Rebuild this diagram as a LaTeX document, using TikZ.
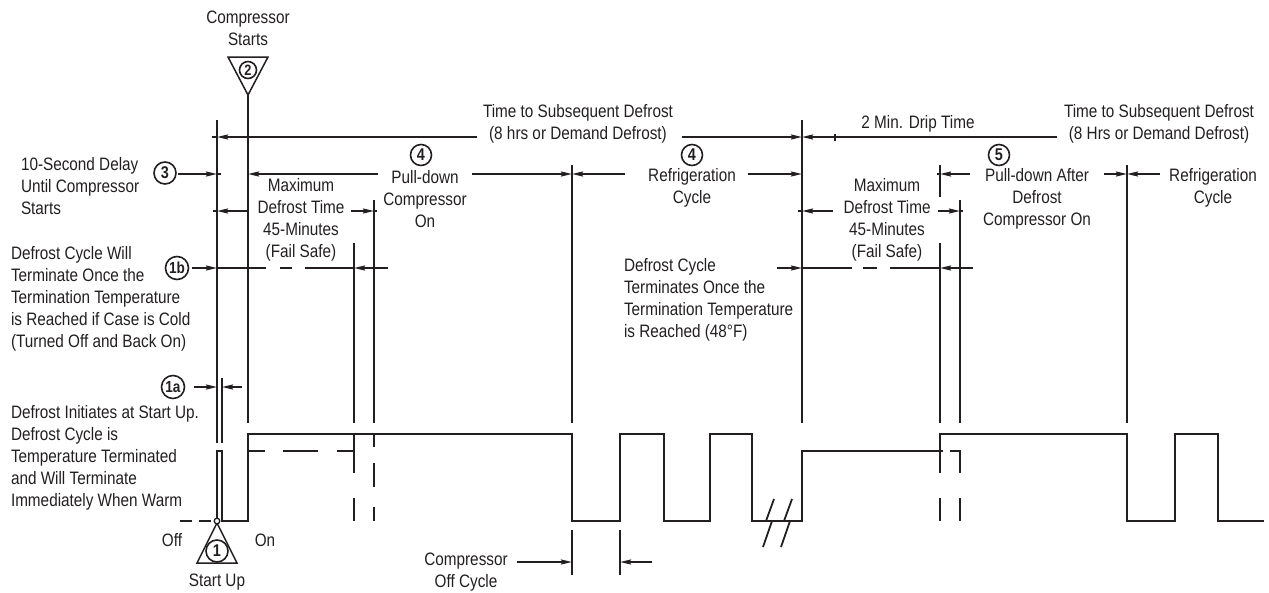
\documentclass[tikz,border=0pt]{standalone}
\usepackage{fontspec}
\setmainfont[FakeStretch=0.85]{Liberation Sans}
\usetikzlibrary{arrows.meta}
\definecolor{ink}{HTML}{231F20}
\begin{document}
\begin{tikzpicture}[x=1pt,y=-1pt, line width=1.8pt, draw=ink,
  every node/.style={inner sep=0pt, outer sep=0pt, text=ink, font=\fontsize{18}{22}\selectfont},
  dim/.style={-{Stealth[length=11pt,width=5pt,inset=1.5pt]}},
  lbl/.style={align=center},
  lbll/.style={align=left, anchor=west},
  num/.style={circle, draw=ink, minimum size=21pt, line width=1.6pt, font=\fontsize{17}{17}\selectfont\bfseries},
  tri/.style={line width=1.5pt, line join=miter},
]
\useasboundingbox (0,0) rectangle (1269,592);

% ---------- texts ----------
\node[lbl] (cs) at (248,28) {Compressor\\Starts};
\node[lbll] (delay) at (21,186) {10-Second Delay\\Until Compressor\\Starts};
\node[lbll] (dcw) at (11,299) {Defrost Cycle Will\\Terminate Once the\\Termination Temperature\\is Reached if Case is Cold\\(Turned Off and Back On)};
\node[lbll] (dis) at (11,458) {Defrost Initiates at Start Up.\\Defrost Cycle is\\Temperature Terminated\\and Will Terminate\\Immediately When Warm};
\node[lbl] (mdt1) at (301,220) {Maximum\\Defrost Time\\45-Minutes\\(Fail Safe)};
\node[lbl] (mdt2) at (887,220) {Maximum\\Defrost Time\\45-Minutes\\(Fail Safe)};
\node[lbl] (pd) at (425,199) {Pull-down\\Compressor\\On};
\node[lbl] (rc1) at (692,188) {Refrigeration\\Cycle};
\node[lbl] (ts1) at (578,124) {Time to Subsequent Defrost\\(8 hrs or Demand Defrost)};
\node[lbl] (ts2) at (1159,124) {Time to Subsequent Defrost\\(8 Hrs or Demand Defrost)};
\node (drip) at (918,124) {2 Min. Drip Time};
\node[lbll] (dct) at (624,300) {Defrost Cycle\\Terminates Once the\\Termination Temperature\\is Reached (48°F)};
\node[lbl] (pda) at (1037,199) {Pull-down After\\Defrost\\Compressor On};
\node[lbl] (rc2) at (1213,188) {Refrigeration\\Cycle};
\node[lbl] (coc) at (466,572) {Compressor\\Off Cycle};
\node (off) at (172,540) {Off};
\node (on) at (265,540) {On};
\node (su) at (217,582) {Start Up};

% ---------- start-up and compressor-start markers ----------
\draw[tri] (228,57) -- (268,57) -- (248,95) -- cycle;
\node[num, minimum size=17pt, font=\fontsize{15}{15}\selectfont\bfseries] (n2) at (248,70) {2};
\draw[tri] (217,523) -- (237,563) -- (197,563) -- cycle;
\node[num, minimum size=22pt, fill=white] (n1) at (217,551) {1};
\draw[line width=1.3pt, fill=white] (217,521) circle[radius=2.8pt];

% ---------- circled numbers ----------
\node[num, minimum size=22pt] (n3) at (165,173) {3};
\node[num, minimum size=23pt, font=\fontsize{16}{16}\selectfont\bfseries] (n1b) at (177,268) {1b};
\node[num, minimum size=23pt, font=\fontsize{16}{16}\selectfont\bfseries] (n1a) at (173,387) {1a};
\node[num] (n4a) at (421,155) {4};
\node[num] (n4b) at (692,155) {4};
\node[num] (n5) at (999,155) {5};

% ---------- vertical reference lines ----------
\draw (217,120) -- (217,443);
\draw (222,378) -- (222,443);
\draw (248,95) -- (248,423);
\draw (374,200) -- (374,423);
\draw (354,243) -- (354,423);
\draw (572,165) -- (572,423);
\draw (802,120) -- (802,423);
\draw (940,165) -- (940,197);
\draw (940,243) -- (940,423);
\draw (960,200) -- (960,423);
\draw (1127,165) -- (1127,423);
\draw (572,530) -- (572,575);
\draw (620,530) -- (620,575);

% ---------- dimension arrows ----------
% row 137
\draw[dim] (477,137) -- (217,137);
\draw (217,137) -- (212,137);
\draw[dim] (682,137) -- (802,137);
\draw[dim] (1057,137) -- (802,137);
\draw (835,134) -- (835,141);
% row 174
\draw[dim] (178,174) -- (217,174);
\draw (217,174) -- (221,174);
\draw[dim] (378,174) -- (248,174);
\draw[dim] (472,174) -- (572,174);
\draw[dim] (625,174) -- (572,174);
\draw[dim] (748,174) -- (802,174);
\draw[dim] (970,174) -- (940,174);
\draw (940,174) -- (937,174);
\draw[dim] (1104,174) -- (1127,174);
\draw[dim] (1160,174) -- (1127,174);
% row 211
\draw[dim] (248,211) -- (217,211);
\draw (217,211) -- (213,211);
\draw[dim] (351,211) -- (374,211);
\draw (374,211) -- (377,211);
\draw[dim] (833,211) -- (802,211);
\draw (802,211) -- (798,211);
\draw[dim] (938,211) -- (960,211);
\draw (960,211) -- (963,211);
% row 268
\draw[dim] (192,268) -- (217,268);
\draw (217,268) -- (266,268) (280,268) -- (292,268) (305,268) -- (354,268);
\draw[dim] (388,268) -- (354,268);
\draw[dim] (777,268) -- (802,268);
\draw (802,268) -- (852,268) (863,268) -- (877,268) (890,268) -- (940,268);
\draw[dim] (973,268) -- (940,268);
% row 387
\draw[dim] (194,387) -- (217,387);
\draw[dim] (242,387) -- (222,387);
% compressor off cycle
\draw[dim] (517,562) -- (572,562);
\draw[dim] (652,562) -- (620,562);

% ---------- waveform ----------
\draw[line join=miter] (217,518) -- (217,451) -- (222,451) -- (222,521) -- (248,521) -- (248,434)
  -- (572,434) -- (572,521) -- (620,521) -- (620,434) -- (664,434) -- (664,521)
  -- (710,521) -- (710,434) -- (752,434) -- (752,521) -- (766,521);
\draw (180,521) -- (192,521) (199,521) -- (211,521);
% break symbols
\draw[line join=miter] (774,499) -- (766,521) -- (772,521) -- (763,547);
\draw (772,521) -- (784,521);
\draw[line join=miter] (792,499) -- (784,521) -- (790,521) -- (781,547);
\draw[line join=miter] (790,521) -- (802,521) -- (802,451) -- (943,451);
\draw[line join=miter] (950,451) -- (960,451) -- (960,473);
\draw (960,498) -- (960,521);
\draw[line join=miter] (940,473) -- (940,434) -- (1127,434) -- (1127,521) -- (1175,521)
  -- (1175,434) -- (1218,434) -- (1218,521) -- (1264,521);
\draw (940,498) -- (940,521);
% dashed alternatives (left)
\draw (248,451) -- (265,451) (283,451) -- (318,451) (337,451) -- (354,451);
\draw (354,434) -- (354,473) (354,498) -- (354,521);
\draw (374,434) -- (374,447) (374,463) -- (374,487) (374,507) -- (374,521);
\end{tikzpicture}
\end{document}
